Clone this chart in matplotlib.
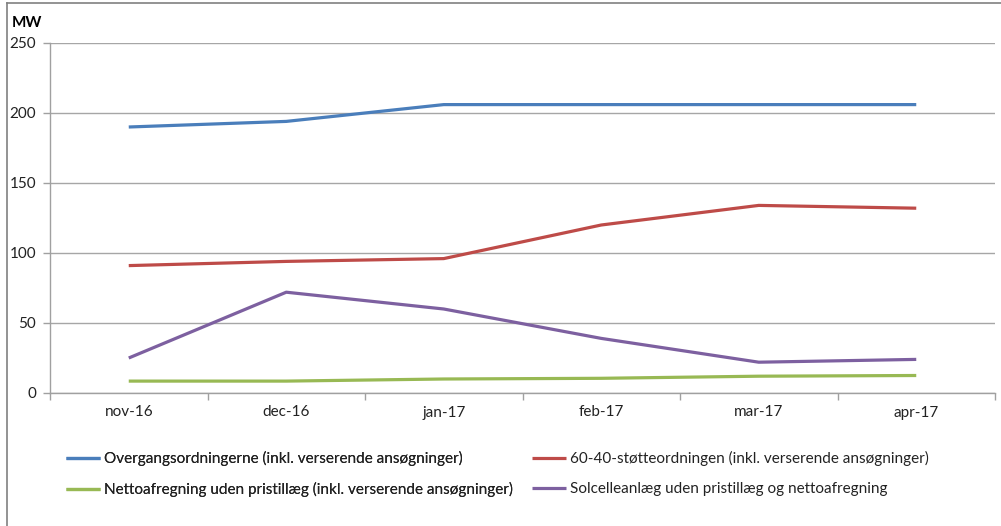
import matplotlib
matplotlib.use("Agg")
import matplotlib.pyplot as plt
from matplotlib.lines import Line2D
import numpy as np

plt.rcParams['font.family'] = ['Lato', 'DejaVu Sans']

months = ["nov-16", "dec-16", "jan-17", "feb-17", "mar-17", "apr-17"]
overgang = [190, 194, 206, 206, 206, 206]
stoette_60_40 = [91, 94, 96, 120, 134, 132]
netto = [8.5, 8.5, 10, 10.5, 12, 12.5]
solcelle = [25, 72, 60, 39, 22, 24]

series = [
    ("Overgangsordningerne (inkl. verserende ansøgninger)", overgang, "#4A7EBB"),
    ("60-40-støtteordningen (inkl. verserende ansøgninger)", stoette_60_40, "#BE4B48"),
    ("Nettoafregning uden pristillæg (inkl. verserende ansøgninger)", netto, "#98B954"),
    ("Solcelleanlæg uden pristillæg og nettoafregning", solcelle, "#7D60A0"),
]

W, H = 1001, 526
fs = 11
fig = plt.figure(figsize=(W / 100, H / 100), dpi=100)
ax = fig.add_axes([50 / W, (H - 393) / H, 945 / W, 350 / H])

x = np.arange(len(months))
handles = []
for label, vals, col in series:
    h, = ax.plot(x, vals, color=col, lw=2.3, solid_capstyle="butt", label=label)
    handles.append(h)

ax.set_xlim(-0.5, len(months) - 0.5)
ax.set_ylim(0, 250)
ax.set_yticks(range(0, 251, 50))
ax.set_xticks(x)
ax.set_xticklabels(months)
ax.set_xticks(np.arange(-0.5, len(months), 1), minor=True)
ax.tick_params(axis="x", which="major", length=0, pad=9, labelsize=fs, colors="#222222")
ax.tick_params(axis="x", which="minor", length=5, color="#a0a0a0", width=1)
ax.tick_params(axis="y", length=5, width=1, pad=5, labelsize=fs, labelcolor="#222222", color="#a0a0a0")
ax.grid(axis="y", color="#a6a6a6", lw=1)
ax.set_axisbelow(True)
for s in ["top", "right"]:
    ax.spines[s].set_visible(False)
for s in ["left", "bottom"]:
    ax.spines[s].set_color("#a0a0a0")
    ax.spines[s].set_linewidth(1)

fig.text(12 / W, 1 - 23 / H, "MW", fontsize=fs, fontweight="bold", va="center", ha="left")

# legend: two columns placed separately
leg_kw = dict(loc="upper left", frameon=False, fontsize=fs, handlelength=2.2,
              handletextpad=0.3, labelspacing=1.05, borderaxespad=0, borderpad=0,
              labelcolor="#222222")
leg1 = fig.legend([handles[0], handles[2]], [handles[0].get_label(), handles[2].get_label()],
                  bbox_to_anchor=(66 / W, 1 - 451 / H), **leg_kw)
fig.legend([handles[1], handles[3]], [handles[1].get_label(), handles[3].get_label()],
           bbox_to_anchor=(532 / W, 1 - 451 / H), **leg_kw)
fig.add_artist(leg1)

# outer frame
fig.add_artist(Line2D([6.5 / W, 6.5 / W], [0, 1 - 3 / H], color="#808080", lw=1.2))
fig.add_artist(Line2D([6.5 / W, 1], [1 - 3 / H, 1 - 3 / H], color="#808080", lw=1.2))

fig.savefig("out.png", dpi=100)
